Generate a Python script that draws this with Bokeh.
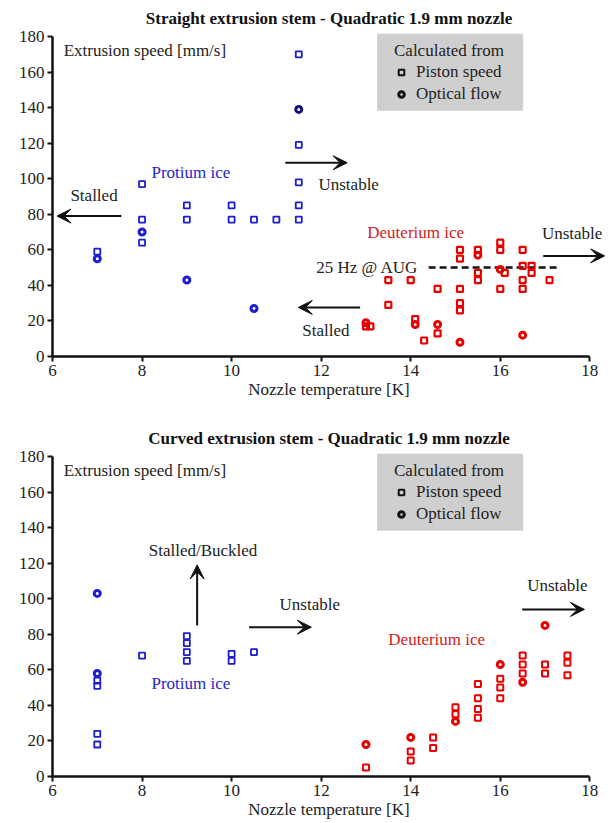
from bokeh.plotting import figure
from bokeh.layouts import column
from bokeh.models import Range1d, FixedTicker, Arrow, VeeHead, Label, Legend, LegendItem, BoxAnnotation
from bokeh.embed import file_html
from bokeh.resources import INLINE

SERIF = "'Liberation Serif', 'Times New Roman', Times, serif"
BLUE = "#1c1cd0"
NAVY = "#10107a"
RED = "#e60000"
TXT_BLUE = "#2626c8"
TXT_RED = "#d42020"
NAN = float("nan")

x_ticks = [6, 8, 10, 12, 14, 16, 18]
y_ticks = [0, 20, 40, 60, 80, 100, 120, 140, 160, 180]

# ---------- Straight extrusion stem ----------
s_h_piston_x = [7, 8, 8, 8, 9, 9, 10, 10, 10.5, 11, 11.5, 11.5, 11.5, 11.5, 11.5]
s_h_piston_y = [59, 97, 77, 64, 85, 77, 85, 77, 77, 77, 170, 119, 98, 85, 77]
s_h_optical_x = [7, 8, 9, 10.5]
s_h_optical_y = [55, 70, 43, 27]
s_h_optical_dark_x = [11.5]
s_h_optical_dark_y = [139]

s_d_piston_x = [13.0, 13.1, 13.5, 13.5, 14.0, 14.1, 14.3, 14.6, 14.6,
                15.1, 15.1, 15.1, 15.1, 15.1, 15.5, 15.5, 15.5,
                16.0, 16.0, 16.1, 16.0, 16.5, 16.5, 16.5, 16.5, 16.7, 16.7, 17.1]
s_d_piston_y = [17, 17, 43, 29, 43, 21, 9, 38, 13,
                60, 55, 38, 30, 26, 60, 47, 43,
                64, 60, 47, 38, 60, 51, 43, 38, 51, 47, 43]
s_d_optical_x = [13.0, 14.1, 14.6, 15.1, 15.5, 16.0, 16.5]
s_d_optical_y = [19, 18, 18, 8, 57, 49, 12]

aug_x = [14.4, 17.3]
aug_y = [50, 50]

# ---------- Curved extrusion stem ----------
c_h_piston_x = [7, 7, 7, 7, 8, 9, 9, 9, 9, 10, 10, 10.5]
c_h_piston_y = [54, 51, 24, 18, 68, 79, 75, 70, 65, 69, 65, 70]
c_h_optical_x = [7, 7]
c_h_optical_y = [103, 58]

c_d_piston_x = [13, 14, 14, 14.5, 14.5, 15, 15, 15.5, 15.5, 15.5, 15.5,
                16, 16, 16, 16.5, 16.5, 16.5, 17, 17, 17.5, 17.5, 17.5]
c_d_piston_y = [5, 14, 9, 22, 16, 39, 35, 52, 44, 38, 33,
                55, 50, 44, 68, 63, 58, 63, 58, 68, 64, 57]
c_d_optical_x = [13, 14, 15, 16, 16.5, 17]
c_d_optical_y = [18, 22, 31, 63, 53, 85]


def make_fig(title, top, bottom):
    p = figure(frame_width=553, frame_height=324,
               x_range=Range1d(6, 18.35), y_range=Range1d(0, 182.25),
               output_backend="svg", toolbar_location=None,
               min_border_left=52, min_border_right=2,
               min_border_top=top, min_border_bottom=bottom)
    p.title.text = title
    p.title.align = "center"
    p.title.text_font = SERIF
    p.title.text_font_size = "17px"
    p.title.text_font_style = "bold"
    p.title.text_color = "#111111"
    p.title.standoff = 10
    p.grid.visible = False
    p.outline_line_color = None
    p.background_fill_color = "white"
    for ax in (p.xaxis, p.yaxis):
        ax.axis_line_width = 2.5
        ax.axis_line_color = "#111111"
        ax.major_tick_line_width = 2
        ax.major_tick_line_color = "#111111"
        ax.major_tick_out = 5
        ax.major_tick_in = 0
        ax.minor_tick_out = 0
        ax.minor_tick_in = 0
        ax.major_label_text_font = SERIF
        ax.major_label_text_font_size = "17px"
        ax.major_label_text_color = "#222222"
        ax.major_label_standoff = 3
    p.xaxis.bounds = (6, 18)
    p.yaxis.bounds = (0, 180)
    p.xaxis.ticker = FixedTicker(ticks=x_ticks)
    p.yaxis.ticker = FixedTicker(ticks=y_ticks)
    p.xaxis.axis_label = "Nozzle temperature [K]"
    p.xaxis.axis_label_text_font = SERIF
    p.xaxis.axis_label_text_font_size = "17px"
    p.xaxis.axis_label_text_font_style = "normal"
    p.xaxis.axis_label_text_color = "#222222"
    p.xaxis.axis_label_standoff = 1

    # legend box + legend
    p.add_layout(BoxAnnotation(left=13.25, right=16.51, bottom=138.2, top=181.5,
                               fill_color="#cfcfcf", fill_alpha=1, line_color=None, level="underlay"))
    r_sq = p.scatter(x=[NAN], y=[NAN], marker="square", size=6, fill_color=None,
                     line_color="#111111", line_width=2)
    r_ci = p.scatter(x=[NAN], y=[NAN], marker="circle", size=6, fill_color=None,
                     line_color="#111111", line_width=3)
    leg = Legend(items=[LegendItem(label="Piston speed", renderers=[r_sq]),
                        LegendItem(label="Optical flow", renderers=[r_ci])],
                 location=(342, 251), title="Calculated from",
                 background_fill_alpha=0, border_line_color=None,
                 padding=6, spacing=0, margin=0, label_standoff=8,
                 glyph_width=14, glyph_height=22, label_height=22,
                 title_standoff=0,
                 title_text_font=SERIF, title_text_font_size="17px",
                 title_text_font_style="normal", title_text_color="#222222",
                 label_text_font=SERIF, label_text_font_size="17px",
                 label_text_color="#222222")
    p.add_layout(leg)
    p.add_layout(Label(x=6.25, y=172, text="Extrusion speed [mm/s]", text_font=SERIF,
                       text_font_size="17px", text_baseline="middle", text_color="#222222"))
    return p


def lab(p, x, y, t, color="#222222"):
    p.add_layout(Label(x=x, y=y, text=t, text_font=SERIF, text_font_size="17px",
                       text_baseline="middle", text_color=color))


def arr(p, x0, y0, x1, y1):
    p.add_layout(Arrow(x_start=x0, y_start=y0, x_end=x1, y_end=y1, line_width=2,
                       line_color="#111111",
                       end=VeeHead(size=14, fill_color="#111111", line_color="#111111")))


# ---- top figure ----
p1 = make_fig("Straight extrusion stem - Quadratic 1.9 mm nozzle", 32, 51)
p1.scatter(s_h_piston_x, s_h_piston_y, marker="square", size=6, fill_color=None,
           line_color=BLUE, line_width=1.8)
p1.scatter(s_h_optical_x, s_h_optical_y, marker="circle", size=6, fill_color=None,
           line_color=BLUE, line_width=3)
p1.scatter(s_h_optical_dark_x, s_h_optical_dark_y, marker="circle", size=6, fill_color=None,
           line_color=NAVY, line_width=3)
p1.line(aug_x, aug_y, line_dash="7 4", line_width=2.5, line_color="#111111")
p1.scatter(s_d_piston_x, s_d_piston_y, marker="square", size=6, fill_color=None,
           line_color=RED, line_width=2.2)
p1.scatter(s_d_optical_x, s_d_optical_y, marker="circle", size=6, fill_color=None,
           line_color=RED, line_width=3)
lab(p1, 8.21, 103.5, "Protium ice", TXT_BLUE)
lab(p1, 6.4, 90.5, "Stalled")
arr(p1, 7.54, 79, 6.1, 79)
arr(p1, 11.2, 109, 12.58, 109)
lab(p1, 11.94, 96.5, "Unstable")
lab(p1, 13.03, 69.5, "Deuterium ice", TXT_RED)
lab(p1, 16.93, 69, "Unstable")
arr(p1, 16.96, 56.6, 18.33, 56.6)
lab(p1, 11.89, 50, "25 Hz @ AUG")
arr(p1, 12.87, 27.6, 11.49, 27.6)
lab(p1, 11.58, 14.4, "Stalled")

# ---- bottom figure ----
p2 = make_fig("Curved extrusion stem - Quadratic 1.9 mm nozzle", 45, 46)
p2.scatter(c_h_piston_x, c_h_piston_y, marker="square", size=6, fill_color=None,
           line_color=BLUE, line_width=1.8)
p2.scatter(c_h_optical_x, c_h_optical_y, marker="circle", size=6, fill_color=None,
           line_color=BLUE, line_width=3)
p2.scatter(c_d_piston_x, c_d_piston_y, marker="square", size=6, fill_color=None,
           line_color=RED, line_width=2)
p2.scatter(c_d_optical_x, c_d_optical_y, marker="circle", size=6, fill_color=None,
           line_color=RED, line_width=3)
lab(p2, 8.15, 127, "Stalled/Buckled")
arr(p2, 9.23, 85, 9.23, 119)
lab(p2, 11.07, 97, "Unstable")
arr(p2, 10.39, 84, 11.78, 84)
lab(p2, 8.21, 52.4, "Protium ice", TXT_BLUE)
lab(p2, 13.5, 77, "Deuterium ice", TXT_RED)
lab(p2, 16.6, 107.4, "Unstable")
arr(p2, 16.49, 94, 17.88, 94)

layout = column(p1, p2, spacing=0)
open("out.html", "w").write(file_html(layout, INLINE))
